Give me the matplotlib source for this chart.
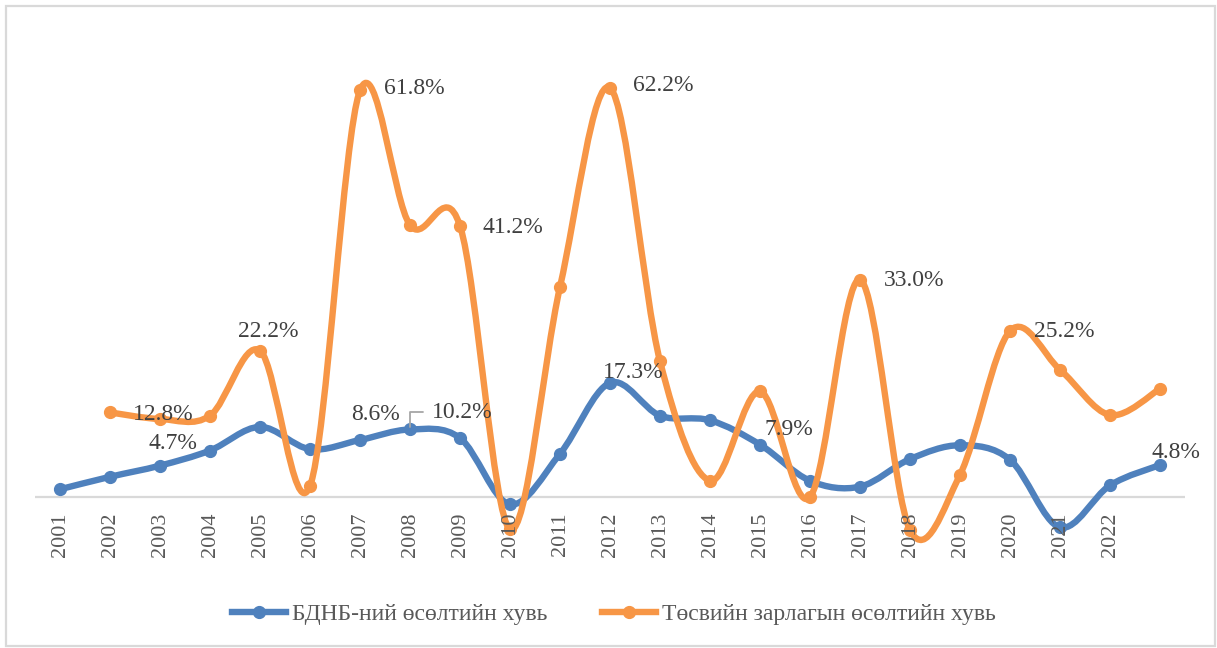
import numpy as np
import matplotlib
matplotlib.use("Agg")
import matplotlib.pyplot as plt
from matplotlib.path import Path
from matplotlib.patches import PathPatch, Rectangle
from matplotlib.lines import Line2D

plt.rcParams['font.family'] = ['Liberation Serif', 'DejaVu Serif']

# ---- data ----
years = ['2001', '2002', '2003', '2004', '2005', '2006', '2007', '2008', '2009', '2010',
         '2011', '2012', '2013', '2014', '2015', '2016', '2017', '2018', '2019', '2020',
         '2021', '2022', '']
gdp_growth = [1.1, 3.0, 4.7, 7.0, 10.6, 7.2, 8.6, 10.2, 8.9, -1.2,
              6.5, 17.3, 12.3, 11.6, 7.9, 2.4, 1.5, 5.7, 7.8, 5.6,
              -4.7, 1.7, 4.8]
budget_growth = [None, 12.8, 11.8, 12.3, 22.2, 1.6, 61.8, 41.3, 41.2, -5.0,
                 31.9, 62.2, 20.6, 2.4, 16.0, -0.1, 33.0, -5.1, 3.3, 25.2,
                 19.3, 12.4, 16.4]
series_names = ['БДНБ-ний өсөлтийн хувь', 'Төсвийн зарлагын өсөлтийн хувь']

BLUE = '#4F81BD'
ORANGE = '#F79646'

W, H = 1217, 648
fig = plt.figure(figsize=(W / 100, H / 100), dpi=100)
ax = fig.add_axes([35 / W, 1 - 562.2 / H, 1150 / W, (562.2 - 36.6) / H])
ax.set_xlim(-0.5, len(years) - 0.5)
ax.set_ylim(-10, 70)
ax.axis('off')

# zero line
ax.axhline(0, color='#D9D9D9', lw=1.6, zorder=1)


def smooth_path(xs, ys):
    pts = np.column_stack([xs, ys]).astype(float)
    n = len(pts)
    verts = [pts[0]]
    codes = [Path.MOVETO]
    for i in range(n - 1):
        p0 = pts[i - 1] if i > 0 else pts[i]
        p1 = pts[i]
        p2 = pts[i + 1]
        p3 = pts[i + 2] if i + 2 < n else pts[i + 1]
        c1 = p1 + (p2 - p0) / 6.0
        c2 = p2 - (p3 - p1) / 6.0
        verts += [c1, c2, p2]
        codes += [Path.CURVE4] * 3
    return Path(verts, codes)


def draw_series(vals, color, z):
    idx = [i for i, v in enumerate(vals) if v is not None]
    ys = [vals[i] for i in idx]
    patch = PathPatch(smooth_path(idx, ys), fill=False, edgecolor=color, lw=4.6,
                      capstyle='round', joinstyle='round', zorder=z)
    ax.add_patch(patch)
    ax.plot(idx, ys, 'o', color=color, ms=8.5, zorder=z + 0.1)


draw_series(gdp_growth, BLUE, 2)
draw_series(budget_growth, ORANGE, 3)

# x tick labels (rotated)
for i, lab in enumerate(years):
    if lab:
        ax.annotate(lab, (i, 0), xytext=(0, -16), textcoords='offset pixels',
                    rotation=90, ha='center', va='top', fontsize=16,
                    color='#595959', zorder=4)

LBL = dict(fontsize=17, color='#404040', ha='center', va='center', zorder=6)


def label(series, i, dx, dy):
    v = series[i]
    ax.annotate(f'{v:.1f}%', (i, v), xytext=(dx, dy), textcoords='offset pixels', **LBL)


# orange labels
label(budget_growth, 1, 53, -2)
label(budget_growth, 4, 8.5, 18.7)
label(budget_growth, 6, 54, 2)
label(budget_growth, 8, 53, -2)
label(budget_growth, 11, 53, 2)
label(budget_growth, 16, 54, -1)
label(budget_growth, 19, 54.5, -1)
# blue labels
label(gdp_growth, 2, 13, 22)
label(gdp_growth, 6, 15, 25)
label(gdp_growth, 11, 23, 10)
label(gdp_growth, 14, 29, 15)
label(gdp_growth, 22, 16, 12)
# 10.2% with leader line
v = gdp_growth[7]
ax.annotate(f'{v:.1f}%', (7, v), xytext=(52, 17), textcoords='offset pixels',
            arrowprops=dict(arrowstyle='-', color='#A6A6A6', lw=1.3,
                            connectionstyle='angle,angleA=0,angleB=90,rad=0',
                            relpos=(0, 0.5), shrinkA=4, shrinkB=2),
            **LBL)

# legend
handles = [Line2D([], [], color=BLUE, lw=4.6, marker='o', ms=8.5),
           Line2D([], [], color=ORANGE, lw=4.6, marker='o', ms=8.5)]
fig.legend(handles, series_names, loc='center', bbox_to_anchor=(614 / W, 1 - 614 / H),
           ncol=2, frameon=False, fontsize=17, handlelength=2.3, handletextpad=0.25,
           columnspacing=2.3, labelcolor='#595959')

# outer border
fig.patches.append(Rectangle((6 / W, 2 / H), 1209 / W, 640 / H, transform=fig.transFigure,
                             fill=False, edgecolor='#D9D9D9', lw=1.6))

fig.savefig('out.png', dpi=100)
